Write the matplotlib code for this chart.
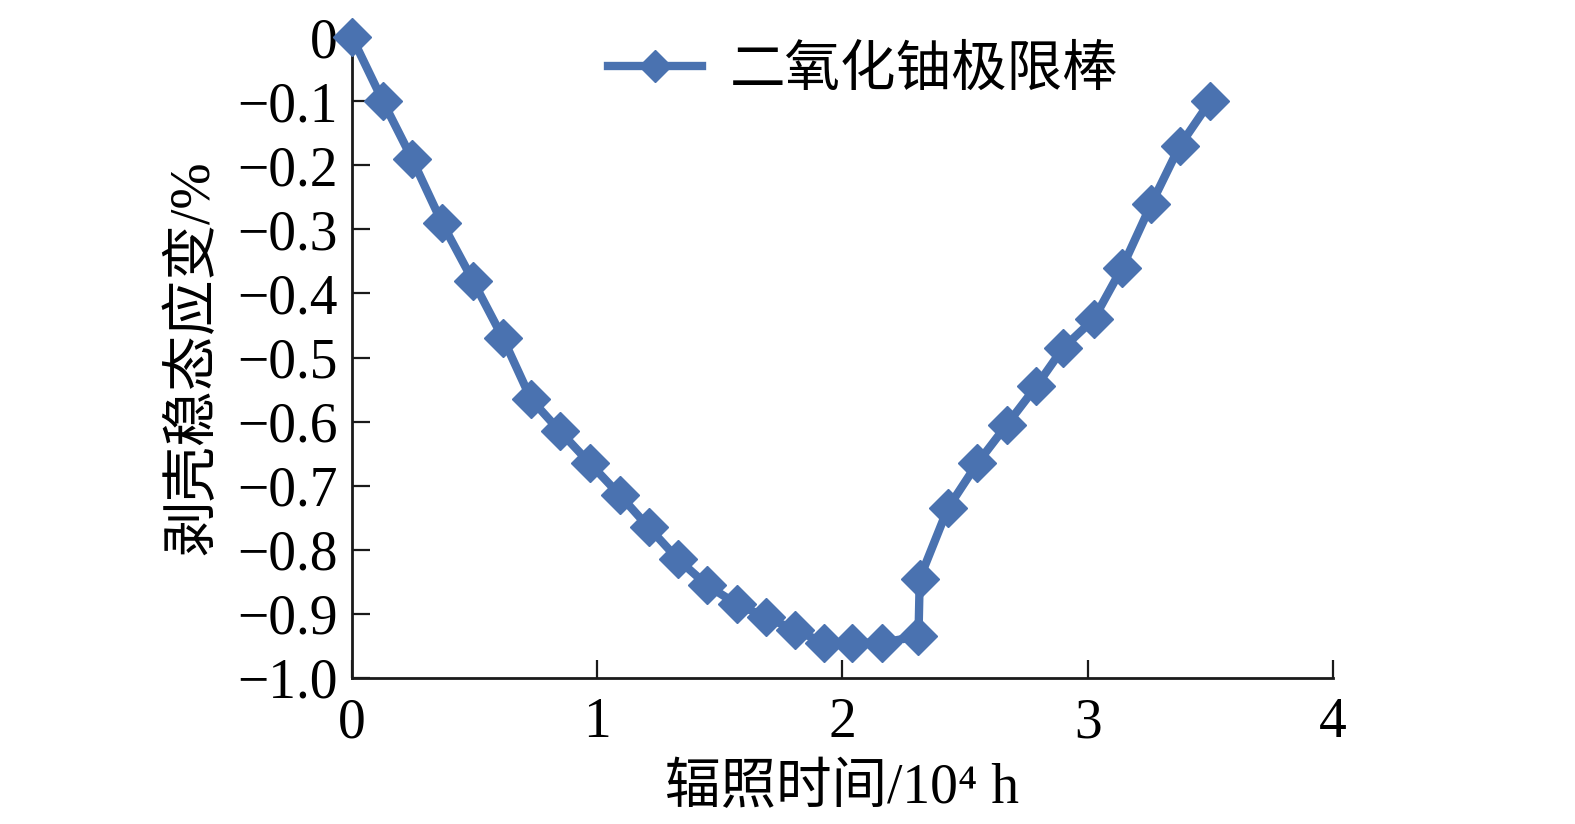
import numpy as np
import matplotlib
matplotlib.use('Agg')
import matplotlib.pyplot as plt

plt.rcParams['font.family'] = ['Liberation Serif', 'Noto Sans CJK SC', 'DejaVu Serif']
plt.rcParams['axes.unicode_minus'] = True

# irradiation time (10^4 h) and strain (%)
time = [0.0, 0.126, 0.245, 0.367, 0.493, 0.616, 0.73, 0.848, 0.97, 1.093,
        1.21, 1.33, 1.447, 1.57, 1.688, 1.806, 1.925, 2.04, 2.16, 2.31,
        2.315, 2.43, 2.55, 2.67, 2.79, 2.90, 3.025, 3.14, 3.26, 3.375, 3.50]
strain = [0.0, -0.10, -0.19, -0.29, -0.38, -0.47, -0.565, -0.615, -0.665, -0.715,
          -0.765, -0.815, -0.855, -0.885, -0.905, -0.925, -0.945, -0.945, -0.945, -0.935,
          -0.845, -0.735, -0.665, -0.605, -0.545, -0.485, -0.44, -0.36, -0.26, -0.17, -0.10]

series_name = '二氧化铀极限棒'
color = '#4a72b0'

fig = plt.figure(figsize=(15.75, 8.24), dpi=100)
ax = fig.add_axes([0.2235, 0.1772, 0.6228, 0.7778])

ax.plot(time, strain, color=color, lw=6, marker='D', ms=19, mec=color, mfc=color,
        clip_on=False, label=series_name, zorder=3)

ax.set_xlim(0, 4)
ax.set_ylim(-1.0, 0)
ax.set_xticks([0, 1, 2, 3, 4])
ax.set_xticklabels(['0', '1', '2', '3', '4'])
ax.set_yticks(np.round(np.arange(0, -1.01, -0.1), 1))
ax.set_yticklabels(['0'] + ['\u2212%.1f' % (i / 10) for i in range(1, 11)])

for s in ['top', 'right']:
    ax.spines[s].set_visible(False)
for s in ['left', 'bottom']:
    ax.spines[s].set_linewidth(2)
    ax.spines[s].set_color('#1a1a1a')

ax.tick_params(direction='in', length=13, width=1.6, labelsize=40, pad=10, color='#1a1a1a')
ax.tick_params(axis='x', pad=14)

ax.set_xlabel('辐照时间/10\u2074 h', fontsize=40, labelpad=10)
ax.set_ylabel('剥壳稳态应变/%', fontsize=40, labelpad=12)

ax.legend(loc='center left', bbox_to_anchor=(0.386, 0.913), bbox_transform=fig.transFigure,
          frameon=False, fontsize=40, borderaxespad=0, borderpad=0,
          handlelength=1.7, handletextpad=0.5, markerscale=0.85)

fig.savefig('out.png', dpi=100)
